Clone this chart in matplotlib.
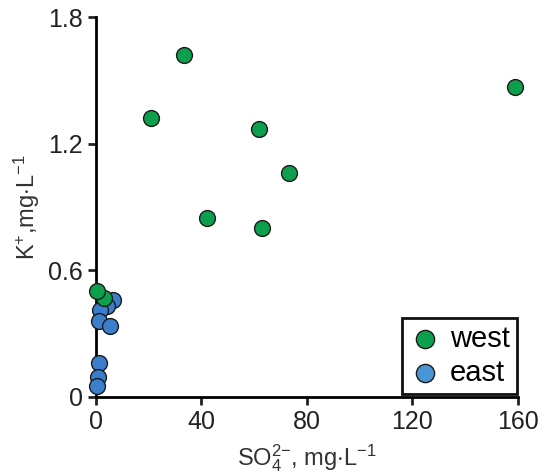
import numpy as np
import matplotlib
matplotlib.use('Agg')
from matplotlib import pyplot as plt

# west (green) points
west_so4 = [159, 33.4, 20.9, 61.8, 73.2, 42.1, 62.9, 3.0, 0.4]
west_k = [1.47, 1.62, 1.32, 1.27, 1.06, 0.85, 0.80, 0.47, 0.50]

# east (blue) points
east_so4 = [6.3, 4.2, 1.5, 1.2, 5.3, 1.0, 0.6, 0.5]
east_k = [0.46, 0.43, 0.41, 0.36, 0.335, 0.16, 0.095, 0.05]

xticks = [0, 40, 80, 120, 160]
yticks = [0, 0.6, 1.2, 1.8]
yticklabels = ['0', '0.6', '1.2', '1.8']

plt.rcParams['font.family'] = ['Liberation Sans', 'DejaVu Sans']
plt.rcParams['mathtext.fontset'] = 'custom'
plt.rcParams['mathtext.rm'] = 'Liberation Sans'
plt.rcParams['mathtext.it'] = 'Liberation Sans'
plt.rcParams['mathtext.bf'] = 'Liberation Sans'
plt.rcParams['mathtext.default'] = 'rm'

fig = plt.figure(figsize=(5.45, 4.76), dpi=100)
ax = fig.add_axes([0.176, 0.166, 0.774, 0.798])

ax.scatter(east_so4, east_k, s=130, c='#3b7fcc', edgecolors='#1a1a1a',
           linewidths=1.0, zorder=3, clip_on=False, label='east')
ax.scatter(west_so4, west_k, s=130, c='#0ca04c', edgecolors='#1a1a1a',
           linewidths=1.0, zorder=4, clip_on=False, label='west')

ax.set_xlim(0, 160)
ax.set_ylim(0, 1.8)
ax.set_xticks(xticks)
ax.set_yticks(yticks)
ax.set_yticklabels(yticklabels)
ax.spines['top'].set_visible(False)
ax.spines['right'].set_visible(False)
ax.spines['left'].set_linewidth(2)
ax.spines['bottom'].set_linewidth(2)
ax.tick_params(direction='out', length=6, width=2, labelsize=18, colors='#222222')

ax.set_xlabel(r'SO$_4^{2\mathrm{-}}$, mg$\cdot$L$^{\mathrm{-1}}$',
              fontsize=17, color='#333333', labelpad=6)
ax.set_ylabel(r'K$^{+}$,mg$\cdot$L$^{\mathrm{-1}}$', fontsize=17,
              color='#333333', labelpad=4)

handles, labels = ax.get_legend_handles_labels()
leg = ax.legend(handles[::-1], labels[::-1], loc='lower right',
                bbox_to_anchor=(1.005, 0.0), fontsize=21, frameon=True,
                fancybox=False, handletextpad=0.3, borderpad=0.25,
                labelspacing=0.2, handlelength=1.1, markerscale=1.15,
                borderaxespad=0.1)
leg.get_frame().set_edgecolor('#111111')
leg.get_frame().set_linewidth(2)
leg.get_frame().set_alpha(1)
leg.legend_handles[0].set_facecolor('#0ca04c')
leg.legend_handles[1].set_facecolor('#4a95d5')

fig.savefig('out.png', dpi=100)
